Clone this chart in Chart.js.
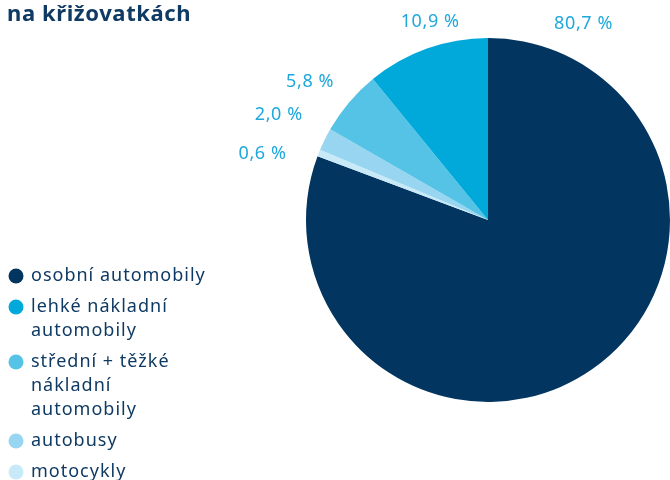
<!DOCTYPE html>
<html>
<head>
<meta charset="utf-8">
<script src="https://cdn.jsdelivr.net/npm/chart.js@4"></script>
<style>
  html, body { margin: 0; padding: 0; background: #fff; }
  #wrap { width: 670px; height: 480px; position: relative; }
</style>
</head>
<body>
<div id="wrap"><canvas id="pieChart" width="670" height="480"></canvas></div>
<script>
// data (legend order)
const title = 'na křižovatkách';
const categories = [
  ['osobní automobily'],
  ['lehké nákladní', 'automobily'],
  ['střední + těžké', 'nákladní', 'automobily'],
  ['autobusy'],
  ['motocykly']
];
const shares = [80.7, 10.9, 5.8, 2.0, 0.6];
const valueLabels = ['80,7 %', '10,9 %', '5,8 %', '2,0 %', '0,6 %'];

// styles
const colors = ['#02355f', '#00a9d9', '#55c3e6', '#97d5f1', '#c8e9f8'];
const textDark = '#0f3a63';
const labelColor = '#1fa8dc';
// clockwise from top: osobní, motocykly, autobusy, střední, lehké
const sliceOrder = [0, 4, 3, 2, 1];
// label placement: [angle deg clockwise from top, distance beyond radius, align]
const labelPlacement = [
  [26, 36, 'center'],
  [-16.3, 24, 'center'],
  [-48, 25, 'right'],
  [-60.4, 31, 'right'],
  [-71.8, 30, 'right']
];

const ctx = document.getElementById('pieChart').getContext('2d');

const extras = {
  id: 'extras',
  afterDraw(chart) {
    const c = chart.ctx;
    const arc = chart.getDatasetMeta(0).data[0];
    c.save();
    // title
    c.fillStyle = textDark;
    c.font = 'bold 22px "Noto Sans"';
    c.letterSpacing = '0.6px';
    c.textAlign = 'left';
    c.textBaseline = 'alphabetic';
    c.fillText(title, 7, 21);

    // value labels around the pie
    c.font = '18px "Noto Sans"';
    c.letterSpacing = '0.6px';
    c.fillStyle = labelColor;
    c.textBaseline = 'middle';
    valueLabels.forEach((t, i) => {
      const [deg, off, align] = labelPlacement[i];
      const a = deg * Math.PI / 180;
      const d = arc.outerRadius + off;
      c.textAlign = align;
      c.fillText(t, arc.x + Math.sin(a) * d, arc.y - Math.cos(a) * d);
    });

    // legend
    let y = 276;
    c.font = '18px "Noto Sans"';
    c.letterSpacing = '1px';
    c.textAlign = 'left';
    categories.forEach((lines, i) => {
      c.fillStyle = colors[i];
      c.beginPath();
      c.arc(16, y, 7.5, 0, Math.PI * 2);
      c.fill();
      c.fillStyle = textDark;
      lines.forEach((ln, j) => {
        c.fillText(ln, 31, y + j * 24);
      });
      y += (lines.length - 1) * 24 + 31;
    });
    c.restore();
  }
};

new Chart(ctx, {
  type: 'pie',
  data: {
    labels: sliceOrder.map(i => categories[i].join(' ')),
    datasets: [{
      data: sliceOrder.map(i => shares[i]),
      backgroundColor: sliceOrder.map(i => colors[i]),
      borderWidth: 0
    }]
  },
  options: {
    responsive: false,
    animation: false,
    layout: { padding: { left: 306, right: 0, top: 38, bottom: 78 } },
    plugins: {
      legend: { display: false },
      tooltip: { enabled: false }
    }
  },
  plugins: [extras]
});
</script>
</body>
</html>
